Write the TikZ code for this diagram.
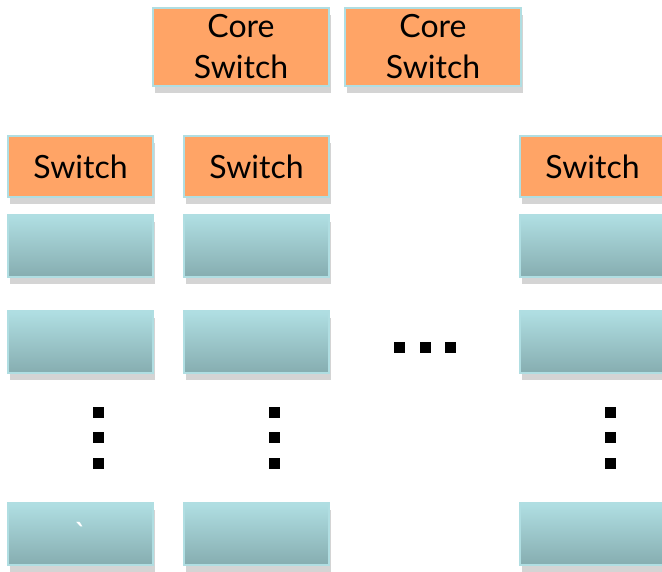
\documentclass[tikz,border=0pt]{standalone}
\usepackage{fontspec}
\setmainfont{Lato}
\usepackage{xcolor}
\usepackage{tikz}
\usetikzlibrary{shapes,shadows}
\definecolor{swfill}{HTML}{FFA466}
\definecolor{swedge}{HTML}{B0DEE2}
\definecolor{racktop}{HTML}{B0DFE3}
\definecolor{rackbot}{HTML}{86ADB0}
\tikzstyle{swblk}=[rectangle, draw=swedge, fill=swfill, line width=2.5pt, inner sep=0pt,% orange switch box
minimum width=145pt, minimum height=61pt, font=\fontsize{32}{41}\selectfont,
drop shadow={shadow xshift=2pt, shadow yshift=-7pt, fill=black!17, opacity=1}]
\tikzstyle{coreblk}=[swblk, minimum width=176pt, minimum height=78pt, align=center]
\tikzstyle{rackblk}=[rectangle, draw=swedge, top color=racktop, bottom color=rackbot,% gradient rack box
line width=2.5pt, inner sep=0pt, minimum width=145pt, minimum height=62pt,
drop shadow={shadow xshift=2pt, shadow yshift=-7pt, fill=black!17, opacity=1}]
\tikzstyle{dotblk}=[rectangle, fill=black, inner sep=0pt, minimum size=11pt]

\begin{document}
\begin{tikzpicture}[x=1pt, y=-1pt]
\useasboundingbox (0,0) rectangle (662,572);
\clip (0,0) rectangle (662,572);

\node[coreblk] (core1) at (241,47) {Core\\Switch};
\node[coreblk] (core2) at (433,47) {Core\\Switch};

\node[swblk] (sw1) at (80.5,166.5) {Switch};
\node[swblk] (sw2) at (256.5,166.5) {Switch};
\node[swblk] (swN) at (592.5,166.5) {Switch};

\node[rackblk] (r11) at (80.5,246) {};
\node[rackblk] (r21) at (256.5,246) {};
\node[rackblk] (rN1) at (592.5,246) {};

\node[rackblk] (r12) at (80.5,342) {};
\node[rackblk] (r22) at (256.5,342) {};
\node[rackblk] (rN2) at (592.5,342) {};

\node[rackblk, text=white, font=\fontsize{32}{41}\selectfont] (r1M) at (80.5,534) {\textasciigrave};
\node[rackblk] (r2M) at (256.5,534) {};
\node[rackblk] (rNM) at (592.5,534) {};

% horizontal dots
\node[dotblk] (h1) at (399.5,347.5) {};
\node[dotblk] (h2) at (425.5,347.5) {};
\node[dotblk] (h3) at (450.5,347.5) {};

% vertical dots
\node[dotblk] (v11) at (98.5,412.5) {};
\node[dotblk] (v12) at (98.5,437.5) {};
\node[dotblk] (v13) at (98.5,463.5) {};
\node[dotblk] (v21) at (274.5,412.5) {};
\node[dotblk] (v22) at (274.5,437.5) {};
\node[dotblk] (v23) at (274.5,463.5) {};
\node[dotblk] (vN1) at (610.5,412.5) {};
\node[dotblk] (vN2) at (610.5,437.5) {};
\node[dotblk] (vN3) at (610.5,463.5) {};

\end{tikzpicture}
\end{document}
